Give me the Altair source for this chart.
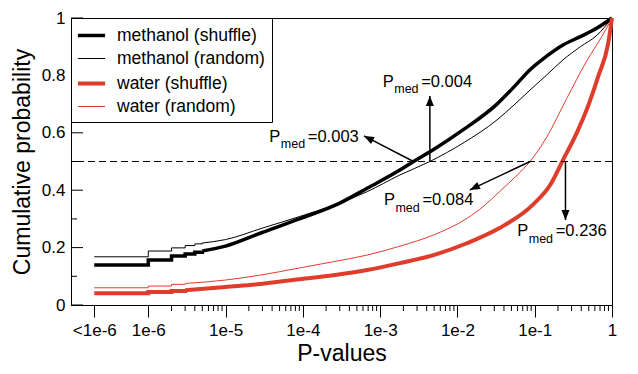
import altair as alt
import pandas as pd

FONT = "Liberation Sans"
BLACK = "#000000"
RED = "#e03c2c"

# ---------------- data ----------------
series_names = ["methanol (shuffle)", "methanol (random)", "water (shuffle)", "water (random)"]
series_colors = [BLACK, BLACK, RED, RED]
series_widths = [3.5, 1.0, 4.0, 1.0]

# stepped low-p part (step-after) of each cumulative curve
meth_shuf_step_p = [2e-7, 1e-6, 2e-6, 3e-6, 4e-6, 5e-6]
meth_shuf_step_c = [0.139, 0.157, 0.171, 0.178, 0.184, 0.188]
meth_rand_step_p = [2e-7, 1e-6, 2e-6, 3e-6, 4e-6, 5e-6]
meth_rand_step_c = [0.168, 0.188, 0.199, 0.207, 0.213, 0.216]
wat_shuf_step_p = [2e-7, 1e-6, 2e-6, 3e-6]
wat_shuf_step_c = [0.041, 0.045, 0.049, 0.051]
wat_rand_step_p = [2e-7, 1e-6, 2e-6, 3e-6]
wat_rand_step_c = [0.060, 0.066, 0.072, 0.075]

# smooth part of each curve
meth_shuf_p = [5e-6, 1e-5, 2.8e-5, 9e-5, 3e-4, 6.8e-4, 1.8e-3, 2.7e-3, 4.8e-3, 0.0118, 0.0325,
               0.054, 0.087, 0.141, 0.232, 0.39, 0.64, 1.0]
meth_shuf_c = [0.188, 0.205, 0.25, 0.30, 0.355, 0.407, 0.47, 0.50, 0.54, 0.61, 0.70,
               0.76, 0.82, 0.866, 0.906, 0.935, 0.965, 1.0]
meth_rand_p = [5e-6, 1e-5, 3e-5, 9e-5, 3e-4, 6.8e-4, 1.8e-3, 4.4e-3, 0.0118, 0.0325, 0.054,
               0.087, 0.141, 0.232, 0.39, 0.64, 1.0]
meth_rand_c = [0.216, 0.228, 0.268, 0.308, 0.355, 0.395, 0.453, 0.50, 0.564, 0.645, 0.697,
               0.749, 0.80, 0.854, 0.90, 0.94, 1.0]
wat_shuf_p = [3e-6, 1e-5, 2.8e-5, 9e-5, 2.5e-4, 6.8e-4, 1.8e-3, 4.9e-3, 0.0135, 0.035, 0.095,
              0.16, 0.232, 0.35, 0.47, 0.66, 0.89, 1.0]
wat_shuf_c = [0.051, 0.063, 0.073, 0.09, 0.104, 0.122, 0.146, 0.174, 0.216, 0.268, 0.35,
              0.42, 0.505, 0.60, 0.68, 0.795, 0.91, 1.0]
wat_rand_p = [3e-6, 1e-5, 2.8e-5, 9e-5, 2.5e-4, 6.8e-4, 1.8e-3, 4.9e-3, 0.0135, 0.022, 0.035,
              0.059, 0.087, 0.143, 0.26, 0.47, 0.736, 1.0]
wat_rand_c = [0.075, 0.087, 0.104, 0.129, 0.151, 0.174, 0.205, 0.244, 0.303, 0.345, 0.395,
              0.452, 0.50, 0.585, 0.72, 0.85, 0.935, 1.0]

# median annotations
ann_text = ["=0.003", "=0.004", "=0.084", "=0.236"]
ann_p = [3.68e-5, 1.08e-3, 1.12e-3, 0.0594]
ann_y = [0.569, 0.7606, 0.3484, 0.2404]

arrow_base_p = [0.0027, 0.0044, 0.087, 0.25]
arrow_base_y = [0.5, 0.5, 0.5, 0.5]
arrow_tip_p = [6.18e-4, 0.0044, 0.0145, 0.25]
arrow_tip_y = [0.589, 0.728, 0.401, 0.296]
arrow_angle = [297, 0, 244, 180]

median_level = [0.5]

# axes ticks
x_tick_values = [2e-7, 1e-6, 1e-5, 1e-4, 1e-3, 1e-2, 1e-1, 1.0]
x_minor_ticks = [k * 10.0 ** d for d in range(-6, 0) for k in range(2, 10)]
y_tick_values = [0, 0.2, 0.4, 0.6, 0.8, 1.0]
y_minor_ticks = [0.1, 0.3, 0.5, 0.7, 0.9]

# ---------------- build tables ----------------
def long_table(p_lists, c_lists):
    rows = []
    for name, ps, cs in zip(series_names, p_lists, c_lists):
        for i, (p, c) in enumerate(zip(ps, cs)):
            rows.append({"series": name, "p": p, "cum": c, "idx": i})
    return pd.DataFrame(rows)

step_df = long_table([meth_shuf_step_p, meth_rand_step_p, wat_shuf_step_p, wat_rand_step_p],
                     [meth_shuf_step_c, meth_rand_step_c, wat_shuf_step_c, wat_rand_step_c])
smooth_df = long_table([meth_shuf_p, meth_rand_p, wat_shuf_p, wat_rand_p],
                       [meth_shuf_c, meth_rand_c, wat_shuf_c, wat_rand_c])

ann_df = pd.DataFrame({"p": ann_p, "y": ann_y, "t": ann_text})
arr_df = pd.DataFrame({"bp": arrow_base_p, "by": arrow_base_y, "tp": arrow_tip_p,
                       "ty": arrow_tip_y, "ang": arrow_angle})
med_df = pd.DataFrame({"y": median_level})
xminor_df = pd.DataFrame({"v": x_minor_ticks})
ymaj_df = pd.DataFrame({"v": y_tick_values})
ymin_df = pd.DataFrame({"v": y_minor_ticks})

W, H = 541, 287

xscale = alt.Scale(type="log", domain=[1e-7, 1.0], nice=False)
yscale = alt.Scale(domain=[0, 1], nice=False, zero=False)

xaxis = alt.Axis(
    values=x_tick_values,
    labelExpr="datum.value < 5e-7 ? '<1e-6' : (datum.value > 0.99 ? '1' : '1e' + round(log(datum.value) / LN10))",
    tickSize=12, labelPadding=5, labelFontSize=17, titleFontSize=23,
    titleX=W / 2, titleY=55, titleBaseline="alphabetic", titleAlign="center",
    labelFlush=False, labelOverlap=False, grid=False,
)
yaxis = alt.Axis(
    values=y_tick_values, format="~g", ticks=False, tickSize=0, labelPadding=6,
    labelFontSize=17, titleFontSize=23, titleAngle=270, titleX=-42, titleY=H / 2,
    titleBaseline="alphabetic", titleAlign="center", grid=False, labelOverlap=False,
)


def X(field):
    return alt.X(field, scale=xscale, axis=xaxis, title="P-values")


def Y(field):
    return alt.Y(field, scale=yscale, axis=yaxis, title="Cumulative probability")


leg = alt.Legend(
    title=None, orient="none", legendX=0, legendY=0, padding=7,
    strokeColor="black", fillColor="white", cornerRadius=0,
    symbolType="M-1.6,0L1.6,0", symbolSize=289, symbolOffset=3,
    labelOffset=15, labelFontSize=17.5, labelFont=FONT, labelColor="black",
    rowPadding=5.5,
)

color_enc = alt.Color("series:N", scale=alt.Scale(domain=series_names, range=series_colors), legend=leg)
width_enc = alt.StrokeWidth("series:N", scale=alt.Scale(type="ordinal", domain=series_names, range=series_widths),
                            legend=leg)

step_lines = alt.Chart(step_df).mark_line(interpolate="step-after").encode(
    x=X("p:Q"), y=Y("cum:Q"), color=color_enc, strokeWidth=width_enc, order="idx:Q",
)
smooth_lines = alt.Chart(smooth_df).mark_line(interpolate="monotone").encode(
    x=X("p:Q"), y=Y("cum:Q"), color=color_enc, strokeWidth=width_enc, order="idx:Q",
)

median_rule = alt.Chart(med_df).mark_rule(color="black", strokeWidth=1, strokeDash=[7, 4]).encode(
    y=Y("y:Q")
)

arrow_lines = alt.Chart(arr_df).mark_rule(color="black", strokeWidth=1.5).encode(
    x=X("bp:Q"), y=Y("by:Q"), x2="tp:Q", y2="ty:Q",
)
arrow_heads = alt.Chart(arr_df).mark_point(
    shape="M0,0L-0.4,1L0.4,1Z", size=400, filled=True, color="black", opacity=1, strokeWidth=0
).encode(
    x=X("tp:Q"), y=Y("ty:Q"), angle=alt.Angle("ang:Q", scale=None),
)

txt_P = alt.Chart(ann_df).mark_text(text="P", align="left", baseline="alphabetic",
                                    fontSize=16.5, font=FONT, color="black").encode(
    x=X("p:Q"), y=Y("y:Q"))
txt_med = alt.Chart(ann_df).mark_text(text="med", align="left", baseline="alphabetic", dx=11.5, dy=6.6,
                                      fontSize=12.5, font=FONT, color="black").encode(
    x=X("p:Q"), y=Y("y:Q"))
txt_val = alt.Chart(ann_df).mark_text(align="left", baseline="alphabetic", dx=38.5,
                                      fontSize=16.5, font=FONT, color="black").encode(
    x=X("p:Q"), y=Y("y:Q"), text="t:N")

x_minor = alt.Chart(xminor_df).mark_rule(color="black", strokeWidth=1).encode(
    x=X("v:Q"), y=alt.value(H), y2=alt.value(H + 6))
y_major = alt.Chart(ymaj_df).mark_rule(color="black", strokeWidth=1).encode(
    y=Y("v:Q"), x=alt.value(0), x2=alt.value(12))
y_minor = alt.Chart(ymin_df).mark_rule(color="black", strokeWidth=1).encode(
    y=Y("v:Q"), x=alt.value(0), x2=alt.value(6))

chart = alt.layer(
    step_lines, smooth_lines, median_rule, arrow_lines, arrow_heads, txt_P, txt_med, txt_val,
    x_minor, y_major, y_minor
).properties(
    width=W, height=H,
    autosize=alt.AutoSizeParams(type="none"),
    padding={"left": 63, "top": 10, "right": 18, "bottom": 60},
    background="white",
).configure_view(
    stroke="black", strokeWidth=1
).configure_axis(
    domainColor="black", tickColor="black", labelColor="black", titleColor="black",
    labelFont=FONT, titleFont=FONT, domainWidth=1, tickWidth=1, titleFontWeight="normal",
)

chart.save("out.html", embed_options={"renderer": "svg", "actions": False})
